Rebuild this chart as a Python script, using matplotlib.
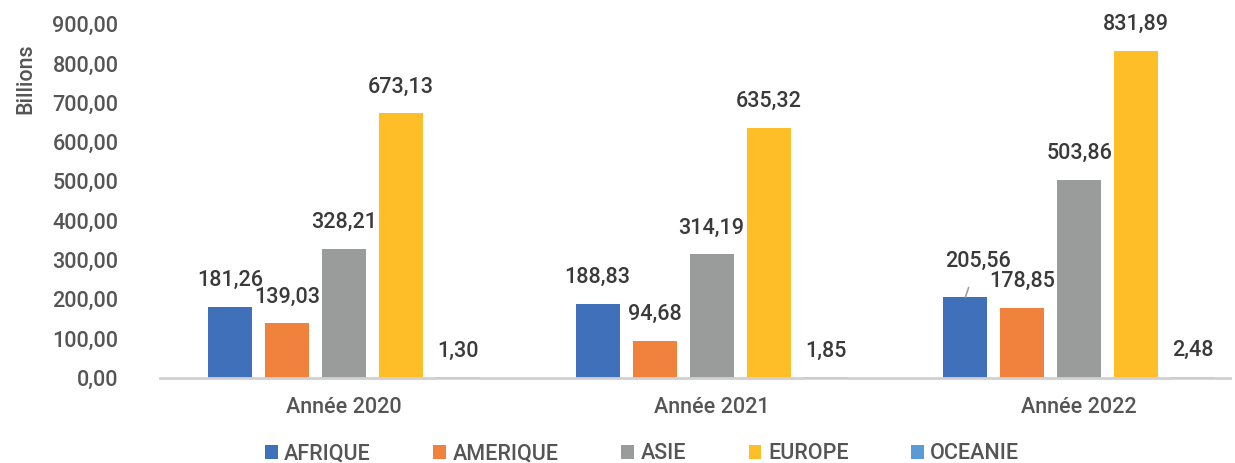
import numpy as np
from matplotlib import pyplot as plt

plt.rcParams['font.family'] = ['Roboto', 'DejaVu Sans']
plt.rcParams['font.weight'] = 'medium'

years = ['Année 2020', 'Année 2021', 'Année 2022']
regions = ['AFRIQUE', 'AMERIQUE', 'ASIE', 'EUROPE', 'OCEANIE']
afrique = [181.26, 188.83, 205.56]
amerique = [139.03, 94.68, 178.85]
asie = [328.21, 314.19, 503.86]
europe = [673.13, 635.32, 831.89]
oceanie = [1.30, 1.85, 2.48]
series = [afrique, amerique, asie, europe, oceanie]
colors = ['#3F70B9', '#F0823D', '#9A9C9C', '#FDBE28', '#5B9BD5']

fig = plt.figure(figsize=(12.35, 4.63), dpi=100)
ax = fig.add_axes([0.1296, 0.1836, 0.8664, 0.7644])

x = np.arange(len(years))
step = 0.155
width = 0.12
txt = '#3A3A3A'
fs = 15.5

for i, (vals, name, c) in enumerate(zip(series, regions, colors)):
    xs = x + (i - 2) * step
    ax.bar(xs, vals, width, color=c, label=name)
    for xx, v in zip(xs, vals):
        lab = f'{v:.2f}'.replace('.', ',')
        if name == 'AFRIQUE' and v > 200:
            # label moved, with a leader line
            ax.annotate(lab, (xx, v), xytext=(9, 26), textcoords='offset points',
                        ha='center', va='center', fontsize=fs, color=txt,
                        arrowprops=dict(arrowstyle='-', color='#A0A0A0', lw=1.2,
                                        shrinkA=10, shrinkB=0))
        else:
            ax.annotate(lab, (xx, v), xytext=(0, 19), textcoords='offset points',
                        ha='center', va='center', fontsize=fs, color=txt)

ax.set_xlim(-0.5, 2.41)
ax.set_ylim(0, 900)
ax.set_yticks(np.arange(0, 901, 100))
ax.set_yticklabels([f'{t:.2f}'.replace('.', ',') for t in np.arange(0, 901, 100)])
ax.set_xticks(x)
ax.set_xticklabels(years)
ax.tick_params(axis='both', length=0, labelsize=fs, colors='#555555')
ax.tick_params(axis='x', pad=14)
ax.tick_params(axis='y', pad=30)
for s in ['top', 'right', 'left']:
    ax.spines[s].set_visible(False)
ax.spines['bottom'].set_color('#D0D0D0')
ax.spines['bottom'].set_linewidth(2)

fig.text(0.021, 0.83, 'Billions', rotation=90, ha='center', va='center',
         fontsize=fs, color='#555555')

fig.legend(loc='lower center', bbox_to_anchor=(0.52, -0.045), ncol=5, frameon=False,
           fontsize=fs, handlelength=0.6, handleheight=0.6, handletextpad=0.3,
           columnspacing=2.9, labelcolor='#555555')

fig.savefig('out.png', dpi=100)
